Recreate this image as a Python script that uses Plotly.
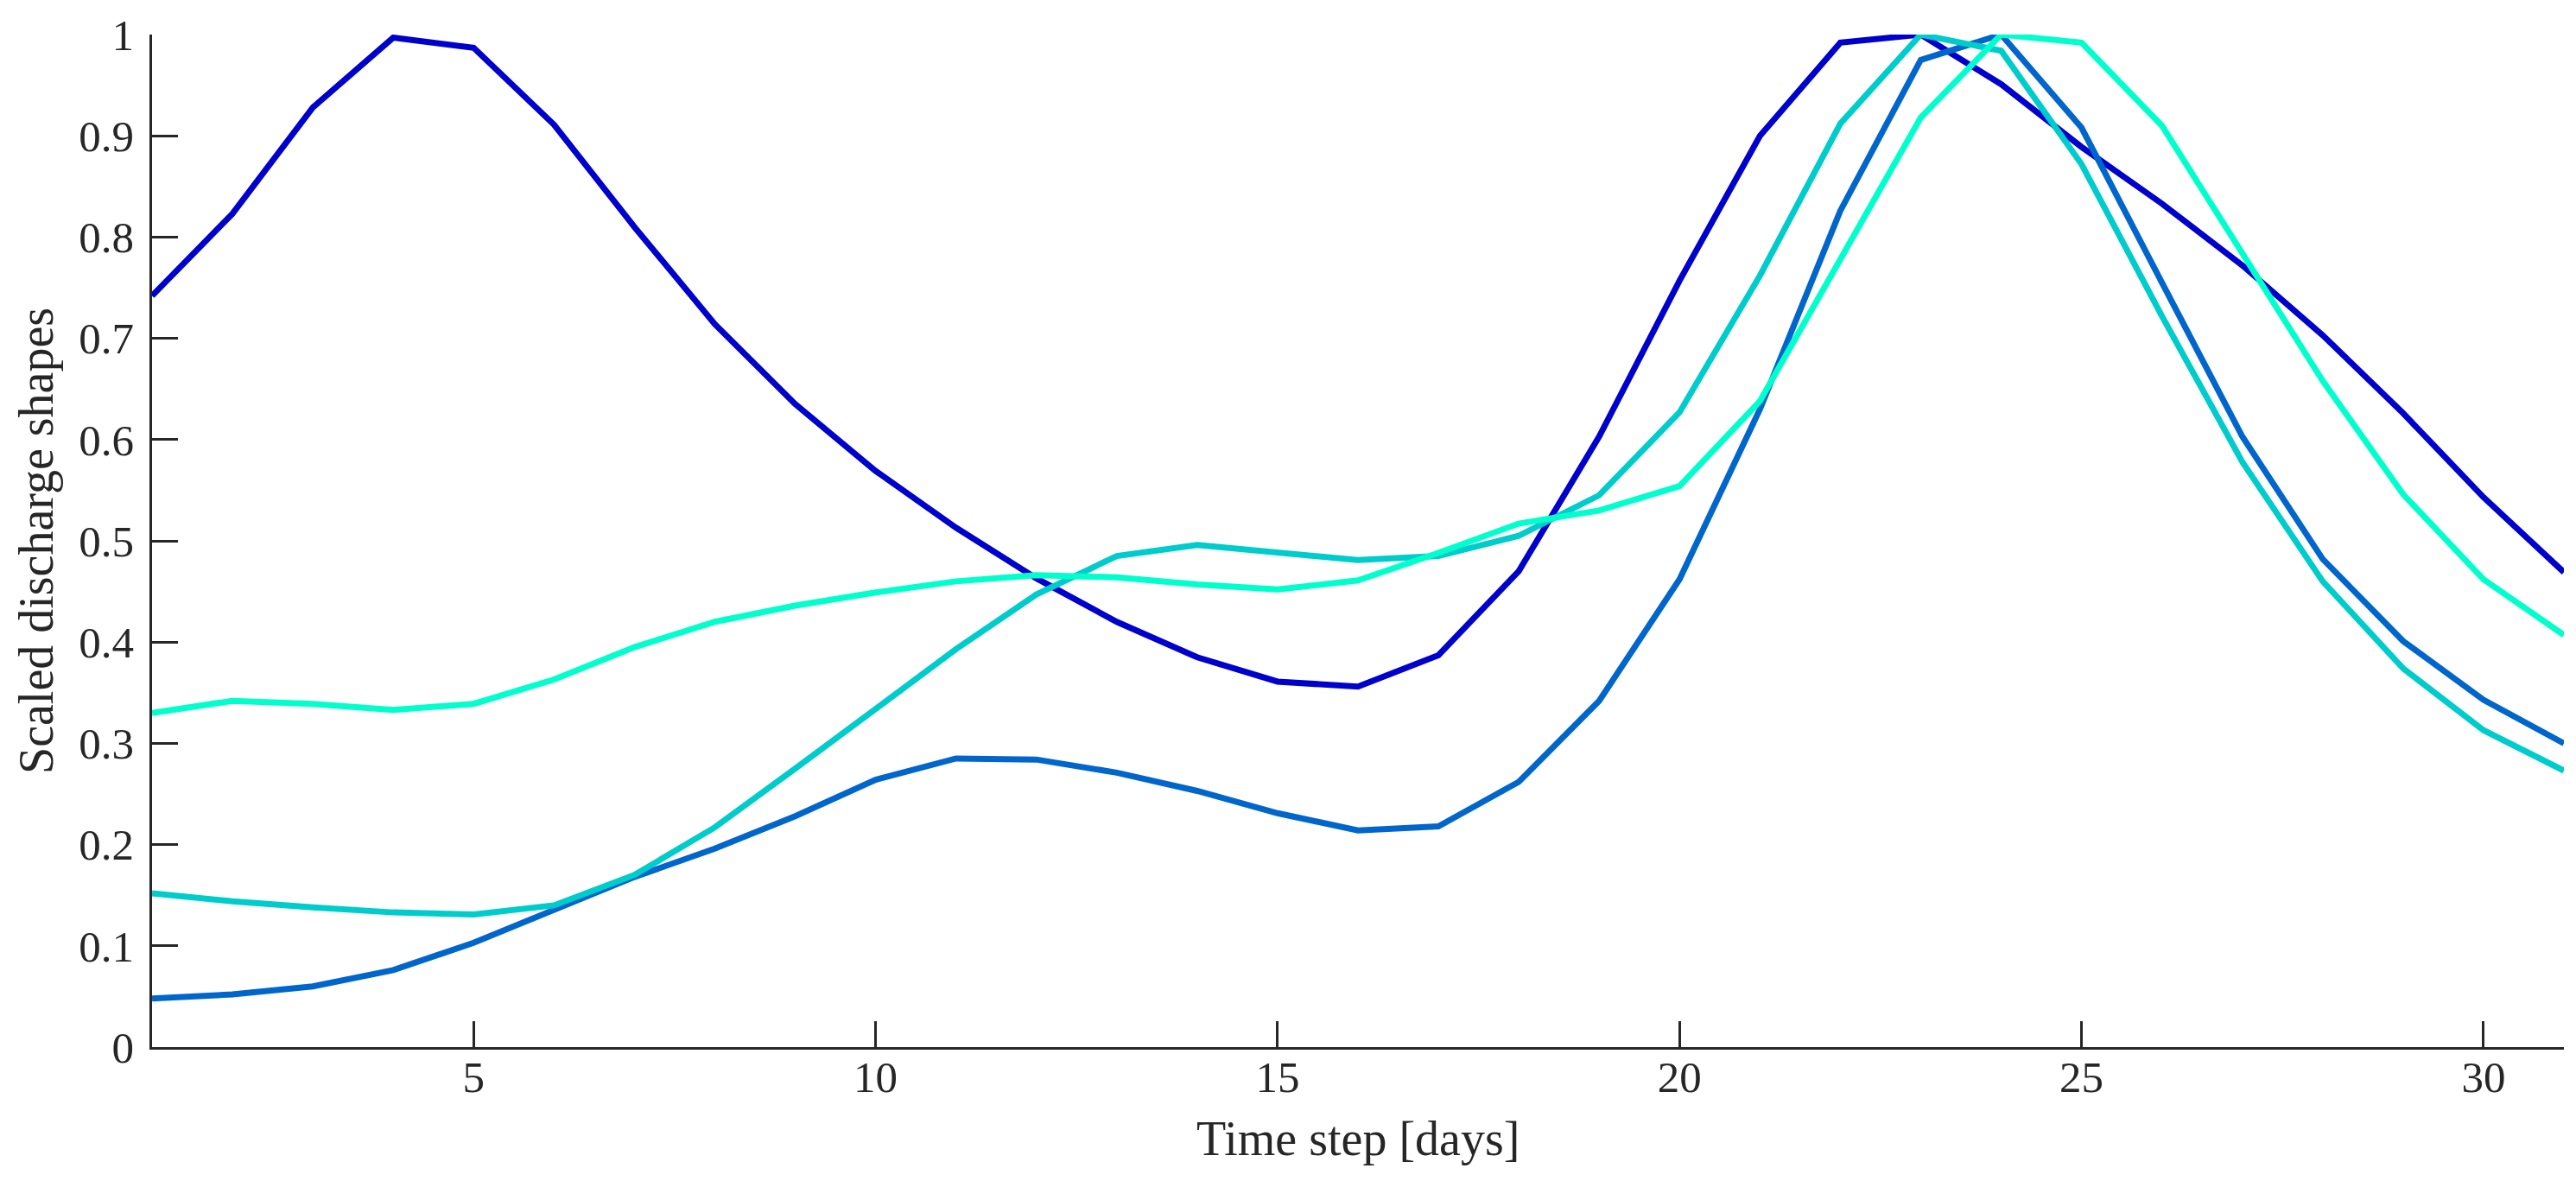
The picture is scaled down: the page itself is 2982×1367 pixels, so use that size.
import plotly.graph_objects as go

days = list(range(1, 32))

shape_1 = [0.742, 0.823, 0.928, 0.997, 0.987, 0.911, 0.810, 0.714, 0.635, 0.569,
           0.513, 0.463, 0.420, 0.385, 0.361, 0.356, 0.387, 0.470, 0.603, 0.757,
           0.900, 0.992, 1.000, 0.951, 0.889, 0.833, 0.772, 0.703, 0.626, 0.543, 0.469]
shape_2 = [0.048, 0.052, 0.060, 0.076, 0.103, 0.136, 0.168, 0.196, 0.228, 0.264,
           0.285, 0.284, 0.271, 0.253, 0.231, 0.214, 0.218, 0.262, 0.342, 0.462,
           0.630, 0.826, 0.975, 1.000, 0.908, 0.755, 0.603, 0.482, 0.401, 0.343, 0.300]
shape_3 = [0.152, 0.144, 0.138, 0.133, 0.131, 0.140, 0.170, 0.217, 0.275, 0.334,
           0.393, 0.447, 0.485, 0.496, 0.489, 0.481, 0.485, 0.505, 0.545, 0.627,
           0.762, 0.912, 1.000, 0.984, 0.872, 0.722, 0.578, 0.460, 0.374, 0.313, 0.273]
shape_4 = [0.330, 0.342, 0.339, 0.333, 0.339, 0.363, 0.395, 0.420, 0.436, 0.449,
           0.460, 0.466, 0.464, 0.457, 0.452, 0.461, 0.488, 0.517, 0.530, 0.554,
           0.638, 0.777, 0.918, 1.000, 0.992, 0.910, 0.785, 0.658, 0.546, 0.462, 0.407]

series = [shape_1, shape_2, shape_3, shape_4]
colors = ["#0000CC", "#0066CC", "#00CCCC", "#00FFCC"]

x_ticks = [5, 10, 15, 20, 25, 30]
y_ticks = [0, 0.1, 0.2, 0.3, 0.4, 0.5, 0.6, 0.7, 0.8, 0.9, 1]
y_ticklabels = ["0", "0.1", "0.2", "0.3", "0.4", "0.5", "0.6", "0.7", "0.8", "0.9", "1"]
x_title = "Time step [days]"
y_title = "Scaled discharge shapes"

W, H = 2982, 1367
ml, mr, mt, mb = 168, 22, 32, 163
pw, ph = W - ml - mr, H - mt - mb

fig = go.Figure()
for vals, col in zip(series, colors):
    fig.add_trace(go.Scatter(x=days, y=vals, mode="lines",
                             line=dict(color=col, width=7),
                             showlegend=False, hoverinfo="skip"))

font_family = "Liberation Serif"
axis_color = "#262626"
fs_tick = 51
fs_title = 56

fig.update_layout(
    width=W, height=H,
    margin=dict(l=ml, r=mr, t=mt, b=mb),
    paper_bgcolor="white", plot_bgcolor="white",
    font=dict(family=font_family, size=fs_tick, color=axis_color),
    showlegend=False,
)
common = dict(
    ticks="inside", ticklen=30, tickwidth=2.5, tickcolor=axis_color,
    showline=True, linecolor=axis_color, linewidth=2.5,
    showgrid=False, zeroline=False, mirror=False, automargin=False,
    ticklabeloverflow="allow",
    tickfont=dict(family=font_family, size=fs_tick, color=axis_color),
)
fig.update_xaxes(range=[1, 31], tickmode="array", tickvals=x_ticks,
                 ticklabelstandoff=-12, **common)
fig.update_yaxes(range=[0, 1], tickmode="array", tickvals=y_ticks, ticktext=y_ticklabels,
                 ticklabelstandoff=8, **common)

fig.add_annotation(text=x_title, xref="paper", yref="paper",
                   x=0.5, y=-(1310 - (H - mb)) / ph, xanchor="center", yanchor="middle",
                   showarrow=False, font=dict(family=font_family, size=fs_title, color=axis_color))
fig.add_annotation(text=y_title, xref="paper", yref="paper", textangle=-90,
                   x=(34 - ml) / pw, y=0.5, xanchor="center", yanchor="middle",
                   showarrow=False, font=dict(family=font_family, size=fs_title, color=axis_color))

fig.write_html("out.html")
